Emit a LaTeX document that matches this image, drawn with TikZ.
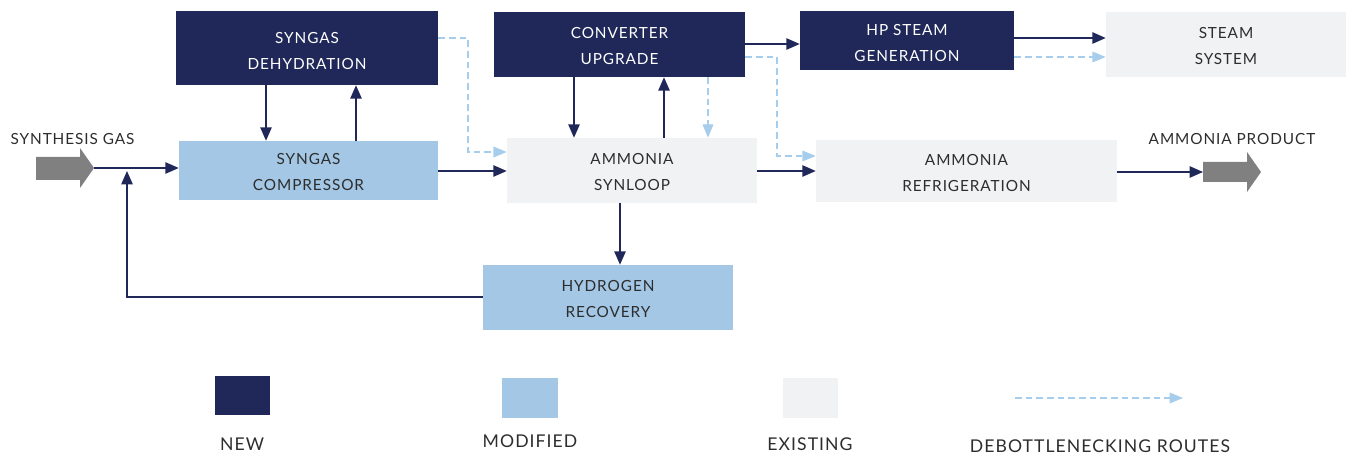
\documentclass[tikz,border=0pt]{standalone}
\usepackage{fontspec}
\setmainfont[LetterSpace=6]{Lato}
\usetikzlibrary{arrows.meta,fit,calc}
\definecolor{navy}{RGB}{31,40,88}
\definecolor{modblue}{RGB}{163,199,228}
\definecolor{exist}{RGB}{241,242,244}
\definecolor{bigarrow}{RGB}{127,128,127}
\definecolor{dashblue}{RGB}{166,205,235}
\definecolor{txt}{RGB}{45,45,45}
\tikzset{
  boxbase/.style={inner sep=0pt},
  newbox/.style={boxbase, fill=navy},
  modbox/.style={boxbase, fill=modblue},
  exbox/.style={boxbase, fill=exist},
  boxtext/.style={inner sep=0pt, align=center, yshift=-1.2pt, font=\fontsize{11.5}{19.5}\selectfont},
  wtext/.style={boxtext, text=white},
  dtext/.style={boxtext, text=txt},
  flow/.style={draw=navy, line width=1.1pt, -{Triangle[length=10pt,width=8.5pt]}},
  route/.style={draw=dashblue, line width=0.9pt, dash pattern=on 5pt off 3pt, -{Triangle[length=10pt,width=8pt,fill=dashblue]}},
  lbl/.style={text=txt, font=\fontsize{11.5}{13}\selectfont, inner sep=0pt},
  leglbl/.style={text=txt, font=\fontsize{13.2}{15}\selectfont, inner sep=0pt},
  blockarrow/.style={fill=bigarrow}
}
\begin{document}
\begin{tikzpicture}[x=0.75pt,y=-0.75pt]
\useasboundingbox (0,0) rectangle (1346,456);

% boxes
\node[newbox, fit={(176,11) (438,85)}] (dehy) {};
\node[modbox, fit={(179,141) (438,200)}] (comp) {};
\node[newbox, fit={(494,12) (745,77)}] (conv) {};
\node[newbox, fit={(800,11) (1014,70)}] (hp) {};
\node[exbox, fit={(1106,12) (1346,77)}] (steam) {};
\node[exbox, fit={(507,138) (757,203)}] (syn) {};
\node[exbox, fit={(816,140) (1117,202)}] (refr) {};
\node[modbox, fit={(483,265) (733,330)}] (hr) {};

\node[wtext, yshift=-0.8pt] (dehyT) at (dehy.center) {SYNGAS\\DEHYDRATION};
\node[dtext] (compT) at (comp.center) {SYNGAS\\COMPRESSOR};
\node[wtext] (convT) at (conv.center) {CONVERTER\\UPGRADE};
\node[wtext, yshift=-0.8pt] (hpT) at (hp.center) {HP STEAM\\GENERATION};
\node[dtext] (steamT) at (steam.center) {STEAM\\SYSTEM};
\node[dtext] (synT) at (syn.center) {AMMONIA\\SYNLOOP};
\node[dtext] (refrT) at (refr.center) {AMMONIA\\REFRIGERATION};
\node[dtext] (hrT) at (hr.center) {HYDROGEN\\RECOVERY};

% big grey arrows
\fill[blockarrow] (36,157) -- (80,157) -- (80,148) -- (94,168) -- (80,188) -- (80,180) -- (36,180) -- cycle;
\coordinate (sgtip) at (94,168);
\fill[blockarrow] (1203,162) -- (1247,162) -- (1247,152) -- (1261,172) -- (1247,192) -- (1247,182) -- (1203,182) -- cycle;
\coordinate (prodtail) at (1203,172);

\node[lbl] (sglabel) at (72.5,139) {SYNTHESIS GAS};
\node[lbl] (prodlabel) at (1232,139) {AMMONIA PRODUCT};

% helper coordinates
\coordinate (x127) at (127,171);
\coordinate (x266) at (266,0);
\coordinate (x356) at (356,0);
\coordinate (x468) at (468,0);
\coordinate (x574) at (574,0);
\coordinate (x664) at (664,0);
\coordinate (x708) at (708,0);
\coordinate (x777) at (777,0);
\coordinate (x620) at (620,0);
\coordinate (y38) at (0,38);
\coordinate (y44) at (0,44);
\coordinate (y57) at (0,57);
\coordinate (y152) at (0,152);
\coordinate (y156) at (0,156);
\coordinate (y171) at (0,171);
\coordinate (y297) at (0,297);

% solid flows
\draw[flow] (sgtip) -- (sgtip -| comp.west);
\draw[flow] (hr.west |- y297) -| (x127);
\draw[flow] (dehy.south -| x266) -- (comp.north -| x266);
\draw[flow] (comp.north -| x356) -- (dehy.south -| x356);
\draw[flow] (comp.east |- y171) -- (syn.west |- y171);
\draw[flow] (conv.south -| x574) -- (syn.north -| x574);
\draw[flow] (syn.north -| x664) -- (conv.south -| x664);
\draw[flow] (conv.east |- y44) -- (hp.west |- y44);
\draw[flow] (hp.east |- y38) -- (steam.west |- y38);
\draw[flow] (syn.east |- y171) -- (refr.west |- y171);
\draw[flow] (syn.south -| x620) -- (hr.north -| x620);
\draw[flow] (refr.east |- prodtail) -- (prodtail);

% debottlenecking routes
\draw[route] (dehy.east |- y38) -| (x468 |- y152) -- (syn.west |- y152);
\draw[route] (conv.south -| x708) -- (syn.north -| x708);
\draw[route] (conv.east |- y57) -| (x777 |- y156) -- (refr.west |- y156);
\draw[route] (hp.east |- y57) -- (steam.west |- y57);

% legend
\node[newbox, fit={(215,376) (270,415)}] (lnew) {};
\node[modbox, fit={(502,378) (558,418)}] (lmod) {};
\node[exbox, fit={(783,378) (838,418)}] (lex) {};
\coordinate (lrs) at (1015,398);
\coordinate (lre) at (1183,398);
\draw[route] (lrs) -- (lre);
\node[leglbl] (tnew) at (242,444) {NEW};
\node[leglbl] (tmod) at (530,441) {MODIFIED};
\node[leglbl] (tex) at (810,444) {EXISTING};
\node[leglbl] (troute) at (1100,446) {DEBOTTLENECKING ROUTES};
\end{tikzpicture}
\end{document}
